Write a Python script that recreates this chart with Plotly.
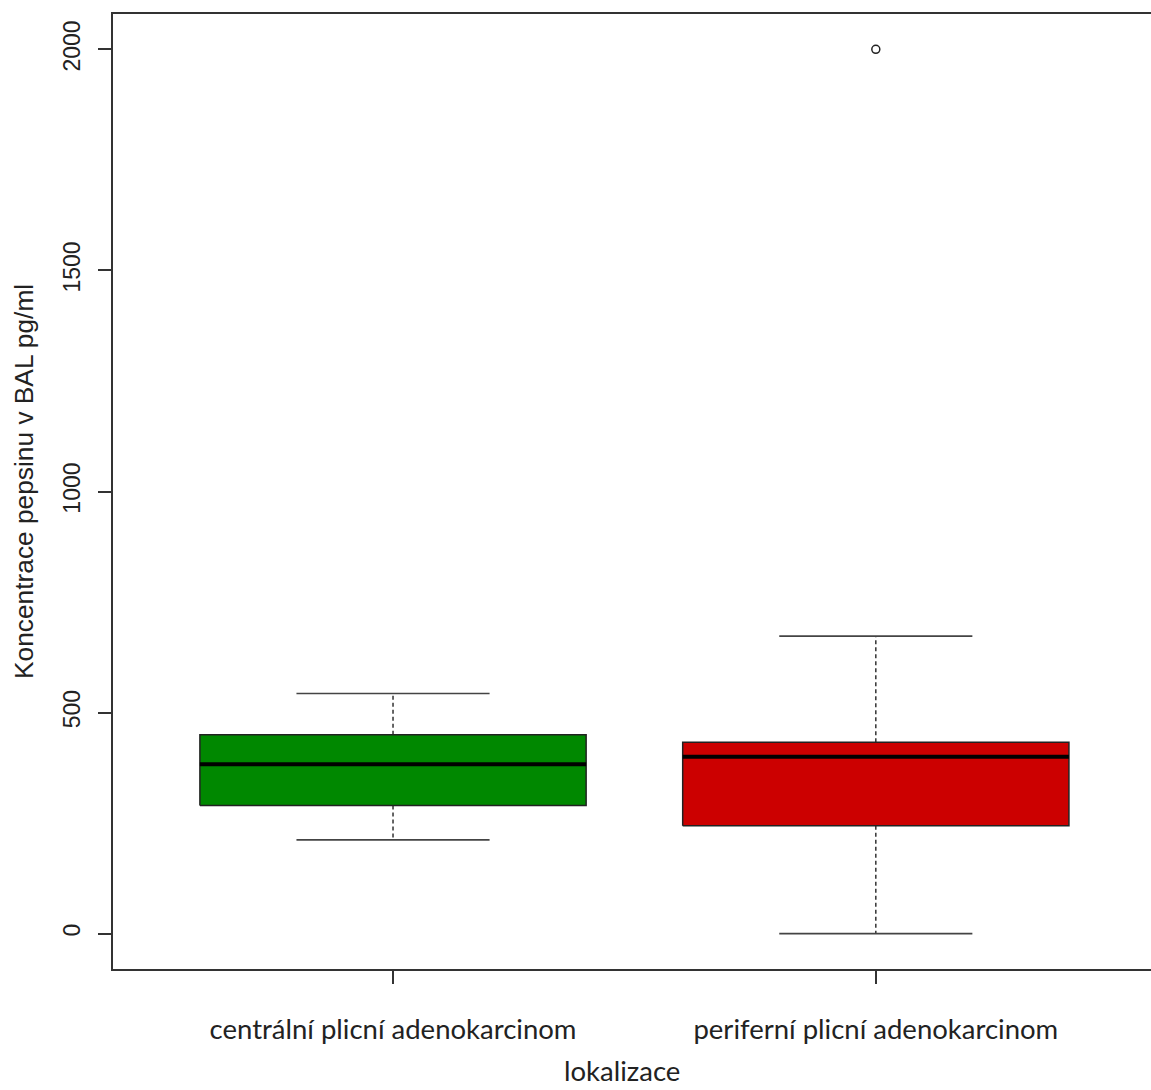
import plotly.graph_objects as go

# ---- data ----
categories = ["centrální plicní adenokarcinom", "periferní plicní adenokarcinom"]
positions = [1, 2]
q1 = [290, 244]
median = [383, 400]
q3 = [450, 433]
lower_whisker = [212, 0]
upper_whisker = [543, 673]
outliers = [[], [2000]]
fill_colors = ["#008800", "#CC0000"]
y_tickvals = [0, 500, 1000, 1500, 2000]

y_title = "Koncentrace pepsinu v BAL pg/ml"
x_title = "lokalizace"

box_half = 0.4
cap_half = 0.2

W, H = 1151, 1090
ML, MR, MT, MB = 113, 0, 14, 121
plot_w = W - ML - MR
plot_h = H - MT - MB

fig = go.Figure()
for i, x in enumerate(positions):
    # dashed whiskers
    fig.add_trace(go.Scatter(
        x=[x, x, None, x, x],
        y=[q3[i], upper_whisker[i], None, q1[i], lower_whisker[i]],
        mode="lines", line=dict(color="#333333", width=1.5, dash="4px,3px"),
        hoverinfo="skip", showlegend=False))
    # whisker caps
    fig.add_trace(go.Scatter(
        x=[x - cap_half, x + cap_half, None, x - cap_half, x + cap_half],
        y=[upper_whisker[i], upper_whisker[i], None, lower_whisker[i], lower_whisker[i]],
        mode="lines", line=dict(color="#444444", width=1.6),
        hoverinfo="skip", showlegend=False))
    # box
    fig.add_trace(go.Scatter(
        x=[x - box_half, x + box_half, x + box_half, x - box_half, x - box_half],
        y=[q1[i], q1[i], q3[i], q3[i], q1[i]],
        mode="lines", fill="toself", fillcolor=fill_colors[i],
        line=dict(color="#222222", width=1.5),
        hoverinfo="skip", showlegend=False))
    # median
    fig.add_trace(go.Scatter(
        x=[x - box_half, x + box_half], y=[median[i], median[i]],
        mode="lines", line=dict(color="#000000", width=4),
        hoverinfo="skip", showlegend=False))
    # outliers
    if outliers[i]:
        fig.add_trace(go.Scatter(
            x=[x] * len(outliers[i]), y=outliers[i], mode="markers",
            marker=dict(symbol="circle-open", size=8, color="#222222",
                        line=dict(width=1.5, color="#222222")),
            hoverinfo="skip", showlegend=False))

axis_color = "#333333"
fig.update_layout(
    width=W, height=H,
    margin=dict(l=ML, r=MR, t=MT, b=MB),
    paper_bgcolor="white", plot_bgcolor="white",
    showlegend=False,
    xaxis=dict(
        range=[0.42, 2.57], tickmode="array", tickvals=positions, ticktext=categories,
        ticks="outside", ticklen=13, tickwidth=1.5, tickcolor=axis_color,
        showline=True, linecolor=axis_color, linewidth=1.6, mirror=True,
        showgrid=False, zeroline=False,
        tickfont=dict(family="Lato", size=27.5, color="#222222"),
        ticklabelstandoff=22,
    ),
    yaxis=dict(
        range=[-80, 2080], tickmode="array", tickvals=y_tickvals,
        ticktext=[str(v) for v in y_tickvals], tickangle=-90,
        ticks="outside", ticklen=13, tickwidth=1.5, tickcolor=axis_color,
        showline=True, linecolor=axis_color, linewidth=1.6, mirror=False,
        showgrid=False, zeroline=False,
        tickfont=dict(family="Liberation Sans", size=23, color="#222222"),
        ticklabelstandoff=9,
    ),
    annotations=[
        dict(text=y_title, xref="paper", yref="paper",
             x=(24 - ML) / plot_w, y=(MT + plot_h - 482) / plot_h,
             xanchor="center", yanchor="middle", textangle=-90, showarrow=False,
             font=dict(family="Liberation Sans", size=26.3, color="#222222")),
        dict(text=x_title, xref="paper", yref="paper",
             x=(622 - ML) / plot_w, y=(MT + plot_h - 1089) / plot_h,
             xanchor="center", yanchor="bottom", showarrow=False,
             font=dict(family="Lato", size=27.5, color="#222222")),
    ],
)

fig.write_html("out.html")
